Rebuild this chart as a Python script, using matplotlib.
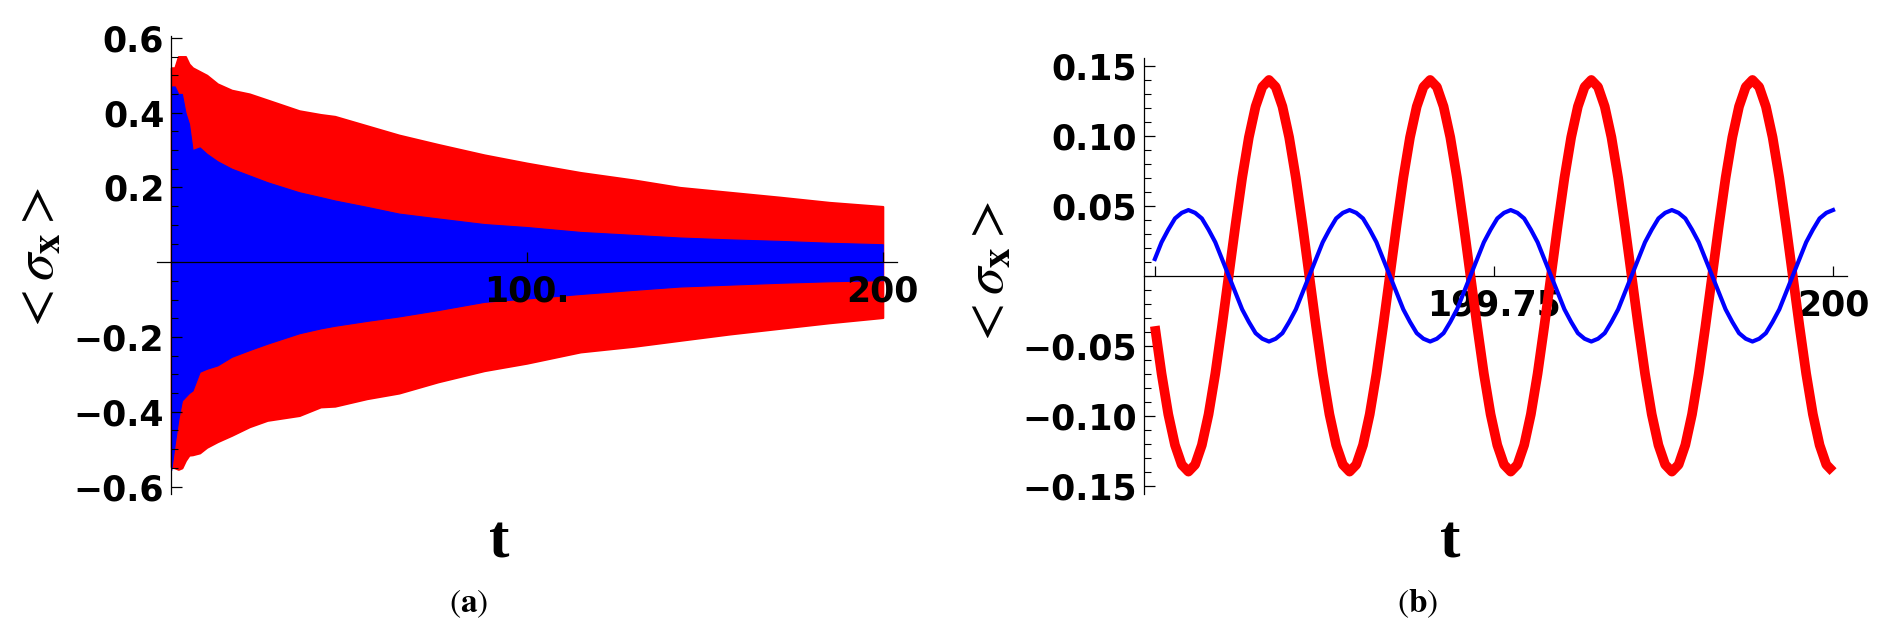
import numpy as np
import matplotlib.pyplot as plt
from matplotlib.ticker import FixedLocator, MultipleLocator

plt.rcParams['mathtext.fontset'] = 'stix'

# ---- panel (a): envelope of the fast oscillation ----
t_env = [0, 1, 2, 3, 4, 5, 6, 8, 10, 13, 17, 22, 27, 36, 42, 46, 55, 64,
         75, 88, 100, 115, 130, 143, 157, 171, 185, 200]
red_up = [0.52, 0.52, 0.55, 0.55, 0.55, 0.53, 0.52, 0.51, 0.50, 0.477, 0.46,
          0.45, 0.434, 0.405, 0.395, 0.39, 0.365, 0.34, 0.315, 0.287, 0.265,
          0.24, 0.22, 0.20, 0.187, 0.174, 0.16, 0.149]
red_lo = [-0.547, -0.55, -0.554, -0.55, -0.53, -0.516, -0.515, -0.51, -0.495,
          -0.48, -0.463, -0.44, -0.423, -0.41, -0.387, -0.385, -0.365, -0.35,
          -0.32, -0.29, -0.27, -0.24, -0.225, -0.209, -0.192, -0.177, -0.162,
          -0.148]
blue_up = [0.47, 0.47, 0.45, 0.45, 0.40, 0.37, 0.30, 0.307, 0.29, 0.27, 0.25,
           0.232, 0.214, 0.187, 0.174, 0.165, 0.148, 0.13, 0.117, 0.102, 0.094,
           0.081, 0.073, 0.066, 0.061, 0.057, 0.052, 0.048]
blue_lo = [-0.556, -0.485, -0.42, -0.37, -0.36, -0.35, -0.343, -0.293, -0.285,
           -0.276, -0.253, -0.235, -0.218, -0.19, -0.177, -0.17, -0.157, -0.145,
           -0.128, -0.106, -0.097, -0.085, -0.074, -0.065, -0.06, -0.055,
           -0.051, -0.048]

# ---- panel (b): last half time unit, sampled evenly from t=199.5 to 200 ----
red_b = [-0.036, -0.070, -0.099, -0.121, -0.135, -0.140, -0.135, -0.121, -0.099, -0.070, -0.036, 0.000,
         0.036, 0.070, 0.099, 0.121, 0.135, 0.140, 0.135, 0.121, 0.099, 0.070, 0.036, 0.000,
         -0.036, -0.070, -0.099, -0.121, -0.135, -0.140, -0.135, -0.121, -0.099, -0.070, -0.036, 0.000,
         0.036, 0.070, 0.099, 0.121, 0.135, 0.140, 0.135, 0.121, 0.099, 0.070, 0.036, 0.000,
         -0.036, -0.070, -0.099, -0.121, -0.135, -0.140, -0.135, -0.121, -0.099, -0.070, -0.036, 0.000,
         0.036, 0.070, 0.099, 0.121, 0.135, 0.140, 0.135, 0.121, 0.099, 0.070, 0.036, 0.000,
         -0.036, -0.070, -0.099, -0.121, -0.135, -0.140, -0.135, -0.121, -0.099, -0.070, -0.036, 0.000,
         0.036, 0.070, 0.099, 0.121, 0.135, 0.140, 0.135, 0.121, 0.099, 0.070, 0.036, 0.000,
         -0.036, -0.070, -0.099, -0.121, -0.135, -0.140]
blue_b = [0.012, 0.024, 0.033, 0.041, 0.045, 0.047, 0.045, 0.041, 0.033, 0.024, 0.012, 0.000,
          -0.012, -0.024, -0.033, -0.041, -0.045, -0.047, -0.045, -0.041, -0.033, -0.024, -0.012, 0.000,
          0.012, 0.024, 0.033, 0.041, 0.045, 0.047, 0.045, 0.041, 0.033, 0.024, 0.012, 0.000,
          -0.012, -0.024, -0.033, -0.041, -0.045, -0.047, -0.045, -0.041, -0.033, -0.024, -0.012, 0.000,
          0.012, 0.024, 0.033, 0.041, 0.045, 0.047, 0.045, 0.041, 0.033, 0.024, 0.012, 0.000,
          -0.012, -0.024, -0.033, -0.041, -0.045, -0.047, -0.045, -0.041, -0.033, -0.024, -0.012, 0.000,
          0.012, 0.024, 0.033, 0.041, 0.045, 0.047, 0.045, 0.041, 0.033, 0.024, 0.012, 0.000,
          -0.012, -0.024, -0.033, -0.041, -0.045, -0.047, -0.045, -0.041, -0.033, -0.024, -0.012, 0.000,
          0.012, 0.024, 0.033, 0.041, 0.045, 0.047]
t_b = np.linspace(199.5, 200.0, len(red_b))

ticks_a_y = [-0.6, -0.4, -0.2, 0.2, 0.4, 0.6]
labels_a_y = ['\u22120.6', '\u22120.4', '\u22120.2', '0.2', '0.4', '0.6']
ticks_a_x = [100, 200]
labels_a_x = ['100.', '200']
ticks_b_y = [-0.15, -0.10, -0.05, 0.05, 0.10, 0.15]
labels_b_y = ['\u22120.15', '\u22120.10', '\u22120.05', '0.05', '0.10', '0.15']
ticks_b_x = [199.5, 199.75, 200]
labels_b_x = ['', '199.75', '200']

W, H = 1877, 630
fig = plt.figure(figsize=(W / 100, H / 100), dpi=100)
ax1 = fig.add_axes([157 / W, 136 / H, 740 / W, 458 / H])
ax2 = fig.add_axes([1144 / W, 136 / H, 703 / W, 436 / H])

ax1.fill_between(t_env, red_lo, red_up, color='red', lw=1.5, zorder=1)
ax1.fill_between(t_env, blue_lo, blue_up, color='blue', lw=0.8, zorder=1.1)
ax1.set_xlim(-4, 204)
ax1.set_ylim(-0.62, 0.605)
ax1.spines['left'].set_position(('data', 0))

ax2.plot(t_b, red_b, color='red', lw=7, solid_joinstyle='round',
         solid_capstyle='butt', zorder=3)
ax2.plot(t_b, blue_b, color='blue', lw=3, solid_joinstyle='round', zorder=3.1)
ax2.set_xlim(199.492, 200.0103)
ax2.set_ylim(-0.156, 0.1557)

tick_font = dict(family='DejaVu Sans', weight='bold', size=25)
for ax, yt, yl, xt, xl, ymin in [(ax1, ticks_a_y, labels_a_y, ticks_a_x, labels_a_x, 0.05),
                                 (ax2, ticks_b_y, labels_b_y, ticks_b_x, labels_b_x, 0.01)]:
    ax.spines['top'].set_visible(False)
    ax.spines['right'].set_visible(False)
    ax.spines['bottom'].set_position(('data', 0))
    for s in ('left', 'bottom'):
        ax.spines[s].set_linewidth(0.9)
    ax.yaxis.set_major_locator(FixedLocator(yt))
    ax.yaxis.set_minor_locator(MultipleLocator(ymin))
    ax.set_yticklabels(yl, fontdict=tick_font)
    ax.xaxis.set_major_locator(FixedLocator(xt))
    ax.set_xticklabels(xl, fontdict=tick_font)
    ax.tick_params(axis='y', which='major', direction='in', length=8, width=0.9, pad=5)
    ax.tick_params(axis='y', which='minor', direction='in', length=5, width=0.8)
    ax.tick_params(axis='x', which='major', direction='in', length=7, width=0.9, pad=9)
    ax.set_facecolor('none')

# axis titles and panel tags
ylab = r'$<\sigma_{\mathbf{x}}>$'
fig.text(37 / W, 1 - 261 / H, ylab, rotation=90, ha='center', va='center', fontsize=40)
fig.text(987 / W, 1 - 275 / H, ylab, rotation=90, ha='center', va='center', fontsize=40)
fig.text(499 / W, 1 - 558 / H, 't', family='Liberation Serif', weight='bold',
         fontsize=44, ha='center', va='baseline')
fig.text(1450 / W, 1 - 558 / H, 't', family='Liberation Serif', weight='bold',
         fontsize=44, ha='center', va='baseline')
fig.text(469 / W, 1 - 612 / H, r'($\mathbf{a}$)', fontsize=24, ha='center', va='baseline',
         family='STIXGeneral')
fig.text(1418 / W, 1 - 612 / H, r'($\mathbf{b}$)', fontsize=24, ha='center', va='baseline',
         family='STIXGeneral')

fig.savefig('out.png', dpi=100)
